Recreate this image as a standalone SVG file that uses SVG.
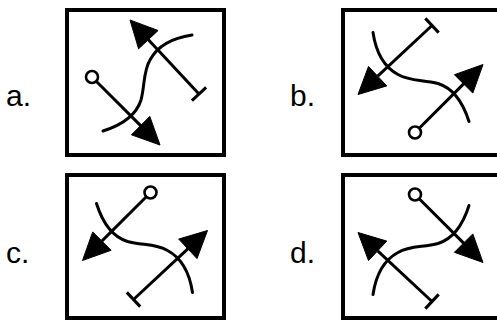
<svg xmlns="http://www.w3.org/2000/svg" xmlns:xlink="http://www.w3.org/1999/xlink" width="497" height="320" viewBox="0 0 497 320">
<style>
.box{fill:#fff;stroke:#000;stroke-width:4}
.lbl{font-family:"Liberation Sans",Arial,sans-serif;font-size:30px;fill:#000}
.ln{fill:none;stroke:#000;stroke-width:3}
.crv{fill:none;stroke:#000;stroke-width:3;stroke-linecap:round}
.head{fill:#000;stroke:#000;stroke-width:1;stroke-linejoin:miter}
.dot{fill:#fff;stroke:#000;stroke-width:2.6}
</style>
<defs>
<g id="icon">
<path class="crv" d="M-42.5,48.5 C-23.5,42.5 -9.5,33.5 -4.5,17.5 C-0.5,2.5 -2.5,-10.5 4.5,-22.5 C12.5,-37.5 26.5,-44.5 46.5,-47.5"/>
<line class="ln" x1="-49.3" y1="-1.3" x2="-4.6" y2="43.4"/>
<polygon class="head" points="14.5,62.5 4.3,33.9 -14.1,52.3"/>
<line class="ln" x1="53.5" y1="11.5" x2="2.9" y2="-42.8"/>
<line class="ln" x1="60.6" y1="4.8" x2="46.4" y2="18.2"/>
<polygon class="head" points="-15.5,-62.5 12.6,-52.0 -6.9,-33.7"/>
<circle class="dot" cx="-53.5" cy="-5.5" r="6"/>
</g>
</defs>
<g id="node-a">
<rect class="box" x="67" y="10" width="157" height="145"/>
<text class="lbl" x="6" y="106">a.</text>
<use xlink:href="#icon" href="#icon" transform="translate(145.5,82.5)"/>
</g>
<g id="node-b">
<rect class="box" x="343" y="10" width="157" height="145"/>
<text class="lbl" x="290" y="106">b.</text>
<use xlink:href="#icon" href="#icon" transform="translate(420.5,79) rotate(-90)"/>
</g>
<g id="node-c">
<rect class="box" x="67" y="175" width="157" height="143"/>
<text class="lbl" x="6" y="263">c.</text>
<use xlink:href="#icon" href="#icon" transform="translate(145,246) rotate(90)"/>
</g>
<g id="node-d">
<rect class="box" x="343" y="175" width="157" height="143"/>
<text class="lbl" x="290" y="263">d.</text>
<use xlink:href="#icon" href="#icon" transform="translate(420.5,248) matrix(0,1,1,0,0,0)"/>
</g>
<g id="connectors"></g>
</svg>
